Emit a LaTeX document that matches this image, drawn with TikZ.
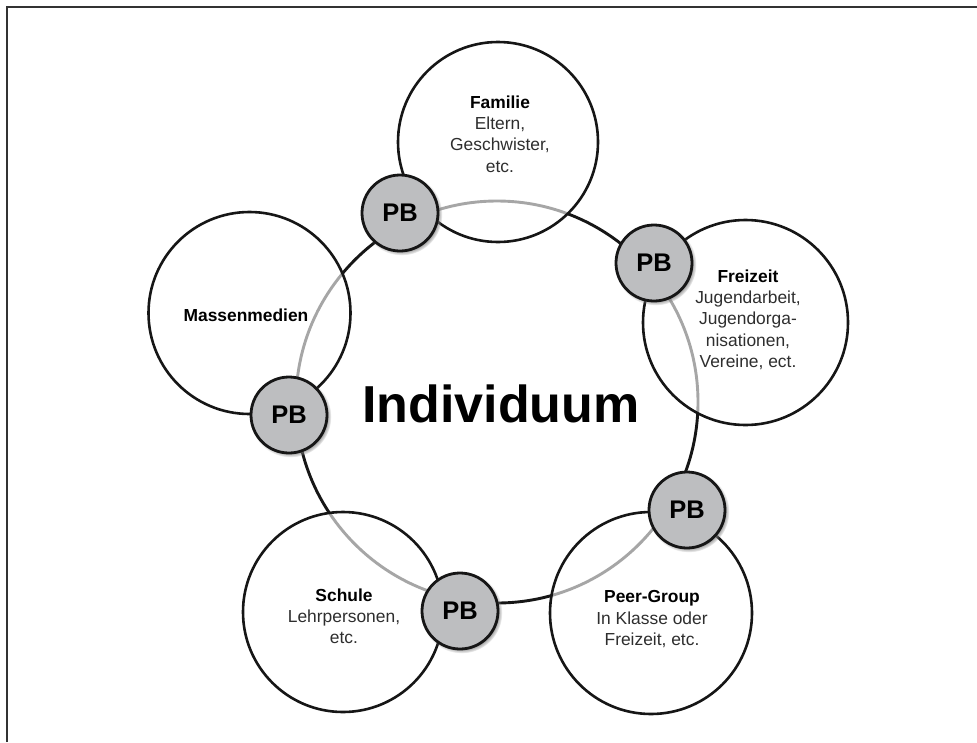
\documentclass[tikz,border=0pt]{standalone}
\usepackage{fontspec}
\setmainfont{Liberation Sans}
\usetikzlibrary{shadows}
\definecolor{ink}{HTML}{161616}
\definecolor{pbfill}{HTML}{BDBEC0}
\definecolor{textgray}{HTML}{2E2E2E}
\definecolor{framegray}{HTML}{333333}
\begin{document}
\begin{tikzpicture}[x=1pt,y=-1pt,
  sphere/.style={circle, draw=ink, line width=2.6pt, fill=white, fill opacity=0.62,
    text opacity=1, inner sep=0pt, minimum size=#1},
  pbnode/.style={circle, draw=ink, line width=2.8pt, fill=pbfill, inner sep=0pt,
    minimum size=76pt, font=\fontsize{25.5}{25.5}\selectfont\bfseries, text=black,
    circular drop shadow={shadow xshift=1.6pt, shadow yshift=-1.6pt, shadow scale=1.07}},
  captext/.style={align=center, inner sep=0pt, text=textgray,
    font=\fontsize{17.4}{21.3}\selectfont},
  ringline/.style={draw=ink, line width=2.9pt}
]
\useasboundingbox (0,0) rectangle (977,742);
% frame
\draw[framegray, line width=1.8pt] (6.7,742) -- (6.7,6.7) -- (977,6.7);

% central ring
\coordinate (ringc) at (497,402);
\draw[ringline] (ringc) circle[radius=201pt];

% outer spheres
\node[sphere=200pt] (familie) at (498,142) {};
\node[sphere=205pt] (freizeit) at (745.5,322.5) {};
\node[sphere=202pt] (medien) at (249.5,313) {};
\node[sphere=200pt] (schule) at (343,612) {};
\node[sphere=202pt] (peer) at (651,613) {};

% texts
\node[captext, anchor=north] (familie-t) at (500,95.5)
  {\textcolor{black}{\bfseries Familie}\\Eltern,\\Geschwister,\\etc.};
\node[captext, anchor=north] (freizeit-t) at (748,269.5)
  {\textcolor{black}{\bfseries Freizeit}\\Jugendarbeit,\\Jugendorga-\\nisationen,\\Vereine, ect.};
\node[captext, anchor=base, text=black, font=\fontsize{17.4}{21.3}\selectfont\bfseries] (medien-t) at (246,321) {Massenmedien};
\node[captext, anchor=north] (schule-t) at (344,588.5)
  {\textcolor{black}{\bfseries Schule}\\Lehrpersonen,\\etc.};
\node[captext, anchor=north] (peer-t) at (652,590.5)
  {\textcolor{black}{\bfseries Peer-Group}\\In Klasse oder\\Freizeit, etc.};

\node[anchor=base, inner sep=0pt, font=\fontsize{52}{52}\selectfont\bfseries] (indiv) at (501,422) {Individuum};

% PB nodes
\node[pbnode] (pb1) at (400,213) {PB};
\node[pbnode] (pb2) at (654,263) {PB};
\node[pbnode] (pb3) at (289,415) {PB};
\node[pbnode] (pb4) at (687,510) {PB};
\node[pbnode] (pb5) at (460,611) {PB};
\end{tikzpicture}
\end{document}
